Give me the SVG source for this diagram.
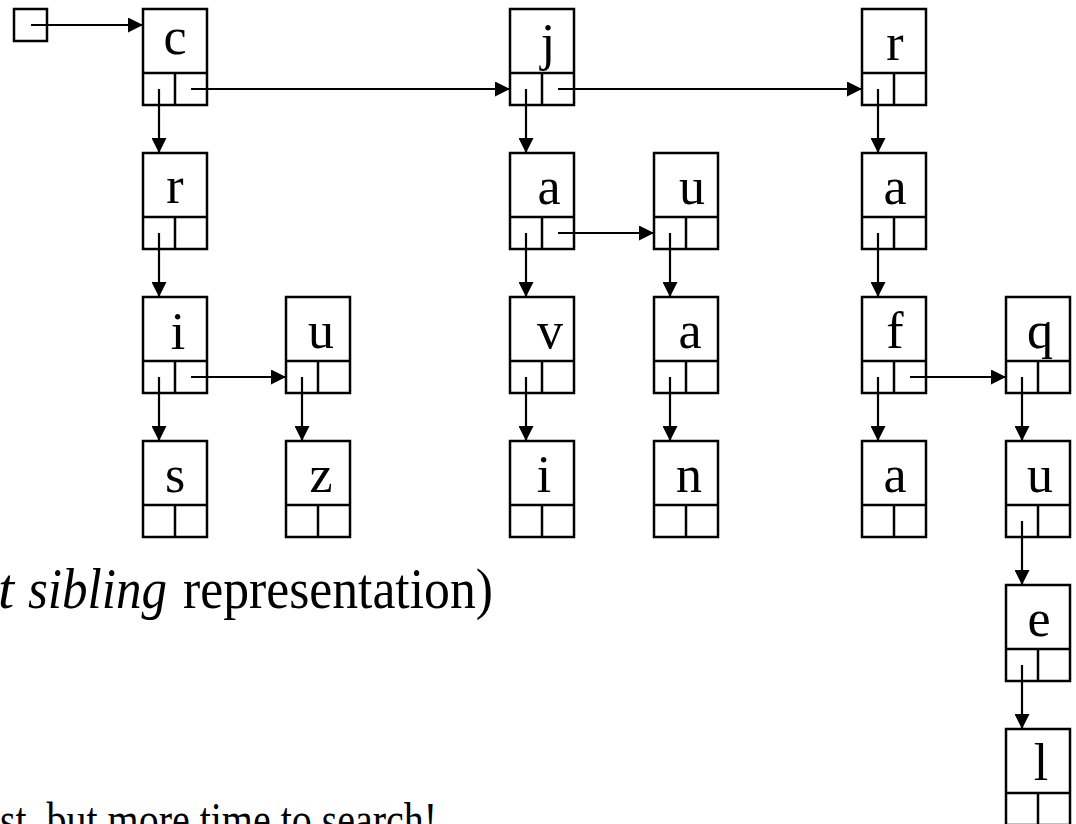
<svg xmlns="http://www.w3.org/2000/svg" width="1076" height="824" viewBox="0 0 1076 824">
  <style>
    .box { fill: #fff; stroke: #000; stroke-width: 2.5; }
    .sep { stroke: #000; stroke-width: 2.5; fill: none; }
    .lbl { font-family: "Liberation Serif", "Times New Roman", serif; font-size: 52px; text-anchor: middle; fill: #000; }
    .link { stroke: #000; stroke-width: 2.2; fill: none; marker-end: url(#arrow); }
    .cap { font-family: "Liberation Serif", "Times New Roman", serif; fill: #000; }
  </style>
  <defs>
    <marker id="arrow" markerUnits="userSpaceOnUse" markerWidth="15" markerHeight="15" refX="15" refY="7.5" orient="auto">
      <path d="M0,0 L15,7.5 L0,15 z" fill="#000"/>
    </marker>
    <!-- trie node: label cell on top, child / sibling pointer cells below -->
    <g id="cell">
      <rect class="box" x="0" y="0" width="64" height="96"/>
      <line class="sep" x1="0" y1="64" x2="64" y2="64"/>
      <line class="sep" x1="32" y1="64" x2="32" y2="96"/>
    </g>
  </defs>

  <!-- root pointer -->
  <g id="root">
    <rect class="box" x="14" y="9" width="33" height="32"/>
  </g>

  <!-- nodes -->
  <g id="n-c" transform="translate(143,9)"><use href="#cell"/><text class="lbl" x="32" y="45">c</text></g>
  <g id="n-r1" transform="translate(143,153)"><use href="#cell"/><text class="lbl" x="32" y="50">r</text></g>
  <g id="n-i1" transform="translate(143,297)"><use href="#cell"/><text class="lbl" x="35" y="52">i</text></g>
  <g id="n-s" transform="translate(143,441)"><use href="#cell"/><text class="lbl" x="32" y="51">s</text></g>
  <g id="n-u1" transform="translate(286,297)"><use href="#cell"/><text class="lbl" x="35" y="51">u</text></g>
  <g id="n-z" transform="translate(286,441)"><use href="#cell"/><text class="lbl" x="35" y="51">z</text></g>

  <g id="n-j" transform="translate(510,9)"><use href="#cell"/><text class="lbl" x="38" y="51">j</text></g>
  <g id="n-a1" transform="translate(510,153)"><use href="#cell"/><text class="lbl" x="39" y="51">a</text></g>
  <g id="n-v" transform="translate(510,297)"><use href="#cell"/><text class="lbl" x="40" y="51">v</text></g>
  <g id="n-i2" transform="translate(510,441)"><use href="#cell"/><text class="lbl" x="34" y="51">i</text></g>
  <g id="n-u2" transform="translate(654,153)"><use href="#cell"/><text class="lbl" x="38" y="51">u</text></g>
  <g id="n-a2" transform="translate(654,297)"><use href="#cell"/><text class="lbl" x="36" y="51">a</text></g>
  <g id="n-n" transform="translate(654,441)"><use href="#cell"/><text class="lbl" x="35" y="51">n</text></g>

  <g id="n-r2" transform="translate(862,9)"><use href="#cell"/><text class="lbl" x="33" y="51">r</text></g>
  <g id="n-a3" transform="translate(862,153)"><use href="#cell"/><text class="lbl" x="33" y="51">a</text></g>
  <g id="n-f" transform="translate(862,297)"><use href="#cell"/><text class="lbl" x="33" y="51">f</text></g>
  <g id="n-a4" transform="translate(862,441)"><use href="#cell"/><text class="lbl" x="33" y="51">a</text></g>
  <g id="n-q" transform="translate(1006,297)"><use href="#cell"/><text class="lbl" x="34" y="51">q</text></g>
  <g id="n-u3" transform="translate(1006,441)"><use href="#cell"/><text class="lbl" x="34" y="51">u</text></g>
  <g id="n-e" transform="translate(1006,585)"><use href="#cell"/><text class="lbl" x="33" y="51">e</text></g>
  <g id="n-l" transform="translate(1006,729)"><use href="#cell"/><text class="lbl" x="35" y="51">l</text></g>

  <!-- connectors: first-child pointers go down, next-sibling pointers go right -->
  <g id="links">
    <line class="link" x1="31" y1="25" x2="143" y2="25"/>

    <line class="link" x1="191" y1="89" x2="510" y2="89"/>
    <line class="link" x1="558" y1="89" x2="862" y2="89"/>

    <line class="link" x1="159" y1="89" x2="159" y2="153"/>
    <line class="link" x1="159" y1="233" x2="159" y2="297"/>
    <line class="link" x1="159" y1="377" x2="159" y2="441"/>
    <line class="link" x1="191" y1="377" x2="286" y2="377"/>
    <line class="link" x1="302" y1="377" x2="302" y2="441"/>

    <line class="link" x1="526" y1="89" x2="526" y2="153"/>
    <line class="link" x1="558" y1="233" x2="654" y2="233"/>
    <line class="link" x1="526" y1="233" x2="526" y2="297"/>
    <line class="link" x1="526" y1="377" x2="526" y2="441"/>
    <line class="link" x1="670" y1="233" x2="670" y2="297"/>
    <line class="link" x1="670" y1="377" x2="670" y2="441"/>

    <line class="link" x1="878" y1="89" x2="878" y2="153"/>
    <line class="link" x1="878" y1="233" x2="878" y2="297"/>
    <line class="link" x1="878" y1="377" x2="878" y2="441"/>
    <line class="link" x1="910" y1="377" x2="1006" y2="377"/>
    <line class="link" x1="1022" y1="377" x2="1022" y2="441"/>
    <line class="link" x1="1022" y1="521" x2="1022" y2="585"/>
    <line class="link" x1="1022" y1="665" x2="1022" y2="729"/>
  </g>

  <!-- captions -->
  <g id="captions">
    <text class="cap" x="-2" y="608" font-size="58" font-style="italic">t</text>
    <text class="cap" x="28" y="608" font-size="58" font-style="italic" textLength="139" lengthAdjust="spacingAndGlyphs">sibling</text>
    <text class="cap" x="183" y="608" font-size="58" textLength="310" lengthAdjust="spacingAndGlyphs">representation)</text>
    <text class="cap" x="-20" y="836" font-size="49" textLength="457" lengthAdjust="spacingAndGlyphs">ost, but more time to search!</text>
  </g>
</svg>
